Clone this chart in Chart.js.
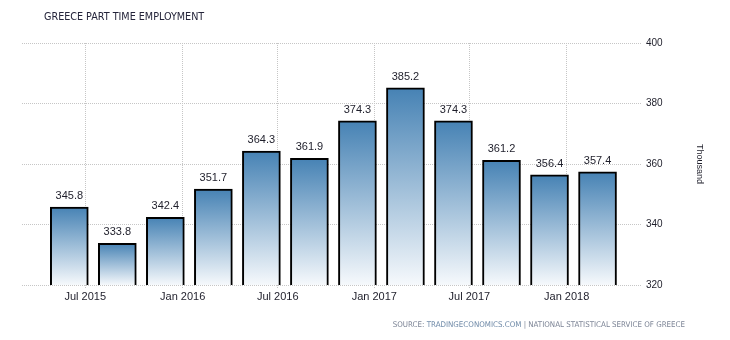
<!DOCTYPE html>
<html>
<head>
<meta charset="utf-8">
<script src="https://cdn.jsdelivr.net/npm/chart.js@4/dist/chart.umd.min.js"></script>
<style>
  html, body { margin: 0; padding: 0; background: #fff; }
  #wrap { position: relative; width: 730px; height: 340px; }
  #title { position: absolute; left: 44px; top: 10px; font: 10.7px "DejaVu Sans Condensed", "Liberation Sans", Arial, sans-serif; color: #24243a; white-space: nowrap; }
  #source { position: absolute; right: 45px; top: 320px; font: 7.9px "DejaVu Sans Condensed", "Liberation Sans", Arial, sans-serif; color: #7d8596; white-space: nowrap; }
  #source .site { color: #6f8aa8; }
  canvas { position: absolute; left: 0; top: 0; }
</style>
</head>
<body>
<div id="wrap">
  <canvas id="chart" width="730" height="340"></canvas>
  <div id="title">GREECE PART TIME EMPLOYMENT</div>
  <div id="source">SOURCE: <span class="site">TRADINGECONOMICS.COM</span> | NATIONAL STATISTICAL SERVICE OF GREECE</div>
</div>
<script>
// quarterly observations, Q2 2015 .. Q1 2018
const quarters = ['2015Q2', '2015Q3', '2015Q4', '2016Q1', '2016Q2', '2016Q3',
                  '2016Q4', '2017Q1', '2017Q2', '2017Q3', '2017Q4', '2018Q1'];
const values = [345.8, 333.8, 342.4, 351.7, 364.3, 361.9, 374.3, 385.2, 374.3, 361.2, 356.4, 357.4];

// date ticks, measured in quarter units from the first bar
const tickLabels = ['Jul 2015', 'Jan 2016', 'Jul 2016', 'Jan 2017', 'Jul 2017', 'Jan 2018'];
const tickPositions = [0.333, 2.361, 4.340, 6.352, 8.330, 10.358];

const yTicks = [320, 340, 360, 380, 400];

const FONT = '"Liberation Sans", Arial, sans-serif';
const gridColor = '#c6c6c6';

function barGradient(c) {
  const chart = c.chart;
  const { ctx, chartArea, scales } = chart;
  if (!chartArea || c.type !== 'data') return '#4682b4';
  const top = scales.y.getPixelForValue(c.raw.y);
  const bottom = scales.y.getPixelForValue(scales.y.min);
  const g = ctx.createLinearGradient(0, top, 0, bottom);
  g.addColorStop(0, '#4682b4');
  g.addColorStop(1, '#f6f9fc');
  return g;
}

const valueLabels = {
  id: 'valueLabels',
  afterDatasetsDraw(chart) {
    const ctx = chart.ctx;
    const meta = chart.getDatasetMeta(0);
    ctx.save();
    ctx.font = '11px ' + FONT;
    ctx.fillStyle = '#1e1e2a';
    ctx.textAlign = 'center';
    ctx.textBaseline = 'alphabetic';
    meta.data.forEach((bar, i) => {
      ctx.fillText(values[i].toFixed(1), bar.x, bar.y - 8);
    });
    ctx.restore();
  }
};

new Chart(document.getElementById('chart'), {
  type: 'bar',
  data: {
    datasets: [{
      label: 'Part time employment',
      data: values.map((v, i) => ({ x: i, y: v, q: quarters[i] })),
      backgroundColor: barGradient,
      borderColor: '#000',
      borderWidth: 2,
      borderSkipped: false,
      barThickness: 38
    }]
  },
  options: {
    responsive: false,
    devicePixelRatio: 1,
    animation: false,
    layout: { padding: { left: 22, top: 43, right: 0, bottom: 0 } },
    plugins: { legend: { display: false }, tooltip: { enabled: false } },
    scales: {
      x: {
        type: 'linear',
        offset: false,
        min: -0.985,
        max: 11.926,
        afterBuildTicks: (s) => { s.ticks = tickPositions.map(v => ({ value: v })); },
        afterFit: (s) => { s.height = 55; },
        ticks: {
          callback: (v, i) => tickLabels[i],
          font: { family: FONT, size: 11 },
          color: '#1e1e2a',
          padding: 2,
          maxRotation: 0,
          autoSkip: false
        },
        grid: { offset: false, color: gridColor, tickLength: 3, tickBorderDash: [1, 1], tickColor: gridColor },
        border: { display: false, dash: [1, 1] }
      },
      y: {
        position: 'right',
        min: 320,
        max: 400,
        afterBuildTicks: (s) => { s.ticks = yTicks.map(v => ({ value: v })); },
        afterFit: (s) => { s.width = 88; },
        ticks: {
          font: { family: FONT, size: 10 },
          color: '#1e1e2a',
          padding: 4
        },
        grid: { color: gridColor, drawTicks: false },
        border: { display: false, dash: [1, 1] },
        title: {
          display: true,
          text: 'Thousand',
          font: { family: FONT, size: 9 },
          color: '#1e1e2a',
          padding: { top: 25, bottom: 0 }
        }
      }
    }
  },
  plugins: [valueLabels]
});
</script>
</body>
</html>
